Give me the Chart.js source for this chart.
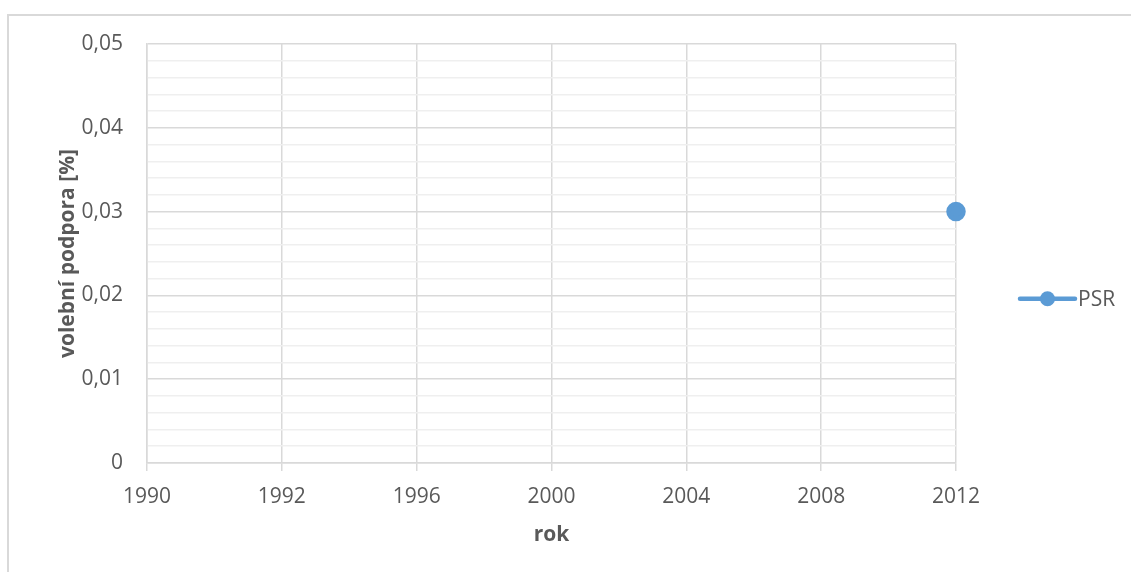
<!DOCTYPE html>
<html>
<head>
<meta charset="utf-8">
<script src="https://cdn.jsdelivr.net/npm/chart.js@4.4.1/dist/chart.umd.min.js"></script>
<style>
  html, body { margin: 0; padding: 0; background: #fff; }
  #wrap { position: relative; width: 1131px; height: 572px; }
  #ramecek { position: absolute; left: 7px; top: 14px; right: -4px; bottom: -4px;
    border-left: 2px solid #d9d9d9; border-top: 2px solid #d9d9d9; }
  canvas { position: absolute; left: 0; top: 0; }
</style>
</head>
<body>
<div id="wrap">
  <div id="ramecek"></div>
  <canvas id="graf" width="1131" height="572"></canvas>
</div>
<script>
const roky = ["1990", "1992", "1996", "2000", "2004", "2008", "2012"];
const psr = [null, null, null, null, null, null, 0.03];
const nazevSerie = "PSR";
const osaY = "volební podpora [%]";
const osaX = "rok";

const modra = "#5b9bd5";
const seda = "#595959";
const pismo = "'Open Sans', sans-serif";

function jeHlavni(v) {
  return Math.abs(v * 100 - Math.round(v * 100)) < 1e-6;
}

// legenda vpravo: cara s bodem a nazev serie
const legendaPlugin = {
  id: "legenda",
  afterDraw(chart) {
    const { ctx, chartArea } = chart;
    const ds = chart.data.datasets[0];
    const x0 = chartArea.right + 64;
    const y = chartArea.top + (chartArea.bottom - chartArea.top) * 0.608;
    ctx.save();
    ctx.strokeStyle = ds.borderColor;
    ctx.lineWidth = 4.5;
    ctx.lineCap = "round";
    ctx.beginPath();
    ctx.moveTo(x0, y);
    ctx.lineTo(x0 + 55, y);
    ctx.stroke();
    ctx.fillStyle = ds.pointBackgroundColor;
    ctx.beginPath();
    ctx.arc(x0 + 27.5, y, 7.5, 0, Math.PI * 2);
    ctx.fill();
    ctx.fillStyle = seda;
    ctx.font = "21px " + pismo;
    ctx.textBaseline = "middle";
    ctx.textAlign = "left";
    ctx.fillText(ds.label, x0 + 58, y + 1);
    ctx.restore();
  }
};

new Chart(document.getElementById("graf"), {
  type: "line",
  data: {
    labels: roky,
    datasets: [{
      label: nazevSerie,
      data: psr,
      borderColor: modra,
      backgroundColor: modra,
      pointBackgroundColor: modra,
      pointBorderColor: modra,
      pointRadius: 7.5,
      borderWidth: 4.5,
      spanGaps: false
    }]
  },
  options: {
    responsive: false,
    animation: false,
    layout: { padding: { left: 40, top: 44, right: 175, bottom: 0 } },
    plugins: {
      legend: { display: false },
      tooltip: { enabled: false }
    },
    scales: {
      x: {
        offset: false,
        afterFit: (s) => { s.height = 109; },
        grid: { color: "#d9d9d9", lineWidth: 1.5, tickLength: 8, drawTicks: true },
        border: { color: "#d9d9d9", width: 1.5 },
        ticks: { color: seda, font: { family: pismo, size: 21 }, padding: 13, maxRotation: 0, autoSkip: false },
        title: { display: true, text: osaX, color: seda, font: { family: pismo, size: 21, weight: "bold" }, padding: { top: 4, bottom: 24 } }
      },
      y: {
        min: 0,
        max: 0.05,
        afterFit: (s) => { s.width = 107; },
        grid: {
          drawTicks: false,
          color: (c) => jeHlavni(c.tick.value) ? "#d9d9d9" : "#efefef",
          lineWidth: 1.5
        },
        border: { color: "#d9d9d9", width: 1.5 },
        ticks: {
          stepSize: 0.002,
          autoSkip: false,
          padding: 24,
          color: seda,
          font: { family: pismo, size: 21 },
          callback: (v) => {
            if (!jeHlavni(v)) return "";
            if (Math.abs(v) < 1e-9) return "0";
            return v.toFixed(2).replace(".", ",");
          }
        },
        title: { display: true, text: osaY, color: seda, font: { family: pismo, size: 21, weight: "bold" }, padding: { top: 15, bottom: 4 } }
      }
    }
  },
  plugins: [legendaPlugin]
});
</script>
</body>
</html>
